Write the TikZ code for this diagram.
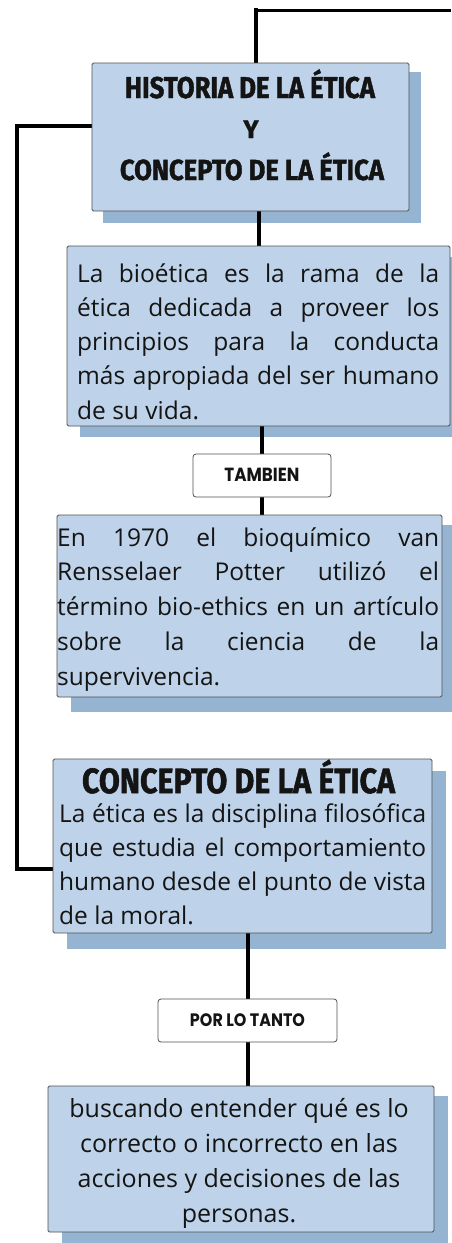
\documentclass[tikz,border=0pt]{standalone}
\usepackage{fontspec}
\usepackage{graphicx}
\setmainfont{Open Sans}
\newfontfamily\titlefont{Fira Sans}[BoldFeatures={FakeBold=1.5}]
\newfontfamily\labelfont{Poppins}
\definecolor{boxfill}{RGB}{190,211,233}
\definecolor{boxshadow}{RGB}{148,180,210}
\definecolor{boxline}{RGB}{80,80,80}
\definecolor{ink}{RGB}{20,20,20}
\pgfdeclarelayer{bg}
\pgfsetlayers{bg,main}
\tikzset{
  cbox/.style={draw=boxline, line width=0.8pt, fill=boxfill, rounded corners=1.5pt, inner sep=0pt},
  lbox/.style={draw=boxline, line width=0.8pt, fill=white, rounded corners=3pt, inner sep=0pt},
  conn/.style={line width=4pt, black},
  thinconn/.style={line width=2.4pt, black},
  shd/.style={fill=boxshadow},
  txt/.style={inner sep=0pt, anchor=base west, text=ink},
  ttl/.style={inner sep=0pt, anchor=base, text=ink},
}
\newcommand\J[1]{\hbox to\hsize{\spaceskip=0.26em plus 1fil minus 0.08em\relax #1}}
\newcommand\N[1]{\hbox to\hsize{#1\hfil}}
\newcommand\C[1]{\hbox to\hsize{\hss #1\hss}}
\newcommand\TT[2]{\resizebox{#1}{\height}{\titlefont\bfseries #2}}
\newcommand\LL[2]{\resizebox{#1}{\height}{\labelfont\bfseries #2}}
\begin{document}
\begin{tikzpicture}[x=1pt,y=-1pt]
\useasboundingbox (0,0) rectangle (451,1243);
% boxes
\node[cbox, minimum width=317pt, minimum height=148pt] (b1) at (250.5,137) {};
\node[cbox, minimum width=383pt, minimum height=180pt] (b2) at (258.5,336) {};
\node[lbox, minimum width=138pt, minimum height=43pt] (l1) at (262,475.5) {};
\node[cbox, minimum width=385pt, minimum height=182pt] (b3) at (249.5,606) {};
\node[cbox, minimum width=379pt, minimum height=174pt] (b4) at (242.5,846) {};
\node[lbox, minimum width=179pt, minimum height=43pt] (l2) at (247.5,1020.5) {};
\node[cbox, minimum width=386pt, minimum height=146pt] (b5) at (241,1159) {};
% coordinates for free ends
\coordinate (top) at (256,8);
\coordinate (topr) at (451,10.5);
\coordinate (c1) at (17,126);
\coordinate (c2) at (17,869);
\begin{pgfonlayer}{bg}
  \fill[shd] ([shift={(11,9)}]b1.north west) rectangle ([shift={(12,12)}]b1.south east);
  \fill[shd] ([shift={(13,11)}]b2.north west) rectangle ([shift={(13,11)}]b2.south east);
  \fill[shd] ([shift={(14,10)}]b3.north west) rectangle ([shift={(14,15)}]b3.south east);
  \fill[shd] ([shift={(14,12)}]b4.north west) rectangle ([shift={(14,16)}]b4.south east);
  \fill[shd] ([shift={(14,10)}]b5.north west) rectangle ([shift={(14,12)}]b5.south east);
  \draw[thinconn] (top |- topr) -- (topr);
  \draw[conn] (top) -- (b1.north -| top);
  \draw[conn] (b1.west |- c1) -- (c1) -- (c2) -- (b4.west |- c2);
  \draw[conn] (b1.south -| b2.north) -- (b2.north);
  \draw[conn] (b2.south -| l1.north) -- (l1.north);
  \draw[conn] (l1.south) -- (l1.south |- b3.north);
  \draw[conn] (b4.south -| l2.north) -- (l2.north);
  \draw[conn] (l2.south) -- (l2.south |- b5.north);
\end{pgfonlayer}
% titles
\node[ttl] (t1) at (250,98) {\fontsize{30}{30}\selectfont\TT{250pt}{HISTORIA DE LA ÉTICA}};
\node[ttl] (t2) at (251,138) {\fontsize{25}{25}\selectfont\TT{15pt}{Y}};
\node[ttl] (t3) at (252,180) {\fontsize{29}{29}\selectfont\TT{264pt}{CONCEPTO DE LA ÉTICA}};
\node[ttl] (t4) at (238.5,793) {\fontsize{35}{35}\selectfont\TT{313pt}{CONCEPTO DE LA ÉTICA}};
% labels
\node[ttl] (lt1) at (l1.center |- 0,481) {\fontsize{19}{19}\selectfont\LL{75pt}{TAMBIEN}};
\node[ttl] (lt2) at (l2.center |- 0,1026) {\fontsize{18}{18}\selectfont\LL{115pt}{POR LO TANTO}};
% body texts
\node[txt] (x2) at (77,282) {\fontsize{24.5}{34.5}\selectfont\vtop{\hsize=362pt\baselineskip=34.3pt\parindent=0pt
  \J{La bioética es la rama de la}
  \J{ética dedicada a proveer los}
  \J{principios para la conducta}
  \J{más apropiada del ser humano}
  \N{de su vida.}}};
\node[txt] (x3) at (57,546) {\fontsize{24.5}{34.5}\selectfont\vtop{\hsize=382pt\baselineskip=34.75pt\parindent=0pt
  \J{En 1970 el bioquímico van}
  \J{Rensselaer Potter utilizó el}
  \J{término bio-ethics en un artículo}
  \J{sobre la ciencia de la}
  \N{supervivencia.}}};
\node[txt] (x4) at (59,822) {\fontsize{24.5}{34.5}\selectfont\vtop{\hsize=367pt\baselineskip=34.3pt\parindent=0pt
  \J{La ética es la disciplina filosófica}
  \J{que estudia el comportamiento}
  \J{humano desde el punto de vista}
  \N{de la moral.}}};
\node[txt, anchor=base] (x5) at (239,1117) {\fontsize{25}{35}\selectfont\vtop{\hsize=380pt\baselineskip=35pt\parindent=0pt
  \C{buscando entender qué es lo}
  \C{correcto o incorrecto en las}
  \C{acciones y decisiones de las}
  \C{personas.}}};
\end{tikzpicture}
\end{document}
